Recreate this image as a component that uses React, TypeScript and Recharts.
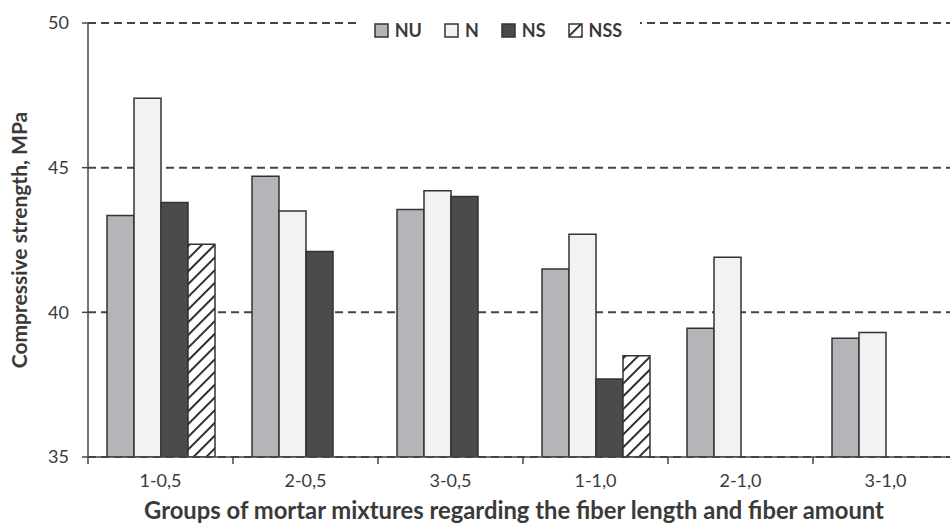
import React from 'react';
import {
  BarChart,
  Bar,
  XAxis,
  YAxis,
  CartesianGrid,
  Legend
} from 'recharts';

const groups = ['1-0,5', '2-0,5', '3-0,5', '1-1,0', '2-1,0', '3-1,0'];
const nuValues = [43.35, 44.7, 43.55, 41.5, 39.45, 39.1];
const nValues = [47.4, 43.5, 44.2, 42.7, 41.9, 39.3];
const nsValues = [43.8, 42.1, 44.0, 37.7, null, null];
const nssValues = [42.35, null, null, 38.5, null, null];
const yTicks = [35, 40, 45, 50];

const series = [
  { key: 'NU', fill: '#b4b5b9' },
  { key: 'N', fill: '#f2f2f2' },
  { key: 'NS', fill: '#4b4b4d' },
  { key: 'NSS', fill: 'url(#hatch)' }
];

const chartData = groups.map((g, i) => ({
  group: g,
  NU: nuValues[i],
  N: nValues[i],
  NS: nsValues[i],
  NSS: nssValues[i]
}));

const FONT = 'Lato, "Open Sans", sans-serif';
const INK = '#3a3a3a';
const TICK_SIZE = 7;
const TICK_MARGIN = 9;

// category label plus a tick mark on the left edge of each band
const GroupTick = (props: any) => {
  const { x, y, payload } = props;
  const axisY = y - TICK_SIZE - TICK_MARGIN;
  const edge = x - (payload.offset || 0);
  return (
    <g>
      <line x1={edge} y1={axisY} x2={edge} y2={axisY + TICK_SIZE} stroke="#444" strokeWidth={1.5} />
      <text x={x} y={y} dy={14} textAnchor="middle" fill={INK} fontSize={18} fontFamily={FONT}>
        {payload.value}
      </text>
    </g>
  );
};

const LegendBox = () => (
  <div style={{ display: 'flex', alignItems: 'center', fontFamily: FONT, fontSize: 18, fontWeight: 700, color: INK, lineHeight: '20px' }}>
    {series.map((s, i) => (
      <div key={s.key} style={{ display: 'flex', alignItems: 'center', marginRight: i < series.length - 1 ? 22 : 0 }}>
        <svg width={15} height={15} style={{ marginRight: 6 }}>
          <rect x={1} y={1} width={13} height={13} fill={s.fill} stroke="#333" strokeWidth={1.5} />
        </svg>
        <span>{s.key}</span>
      </div>
    ))}
  </div>
);

export default function App() {
  return (
    <div style={{ position: 'absolute', left: 0, top: 0, width: 950, height: 524, overflow: 'hidden', background: '#fff' }}>
      <BarChart
        width={960}
        height={524}
        data={chartData}
        margin={{ top: 23, right: 2, left: 0, bottom: 0 }}
        barCategoryGap={19}
        barGap={0}
      >
        <defs>
          <pattern id="hatch" width="9" height="9" patternUnits="userSpaceOnUse" patternTransform="rotate(45)">
            <rect width="9" height="9" fill="#ffffff" />
            <line x1="0" y1="0" x2="0" y2="9" stroke="#1a1a1a" strokeWidth="3.6" />
          </pattern>
        </defs>
        <CartesianGrid vertical={false} stroke="#444" strokeWidth={2} strokeDasharray="8 5" />
        <XAxis
          dataKey="group"
          height={67}
          tickLine={false}
          tickSize={TICK_SIZE}
          tickMargin={TICK_MARGIN}
          axisLine={{ stroke: '#444', strokeWidth: 1.5 }}
          tick={<GroupTick />}
          interval={0}
          label={{
            value: 'Groups of mortar mixtures regarding the fiber length and fiber amount',
            position: 'insideBottom',
            offset: 5,
            dx: -9,
            style: { fontFamily: FONT, fontSize: 23.8, fontWeight: 700, fill: INK }
          }}
        />
        <YAxis
          domain={[35, 50]}
          ticks={yTicks}
          width={88}
          tickSize={6}
          tickMargin={13}
          interval={0}
          allowDataOverflow
          axisLine={{ stroke: '#444', strokeWidth: 1.5 }}
          tickLine={{ stroke: '#444', strokeWidth: 1.5 }}
          tick={{ fill: INK, fontSize: 18, fontFamily: FONT }}
          label={{
            value: 'Compressive strength, MPa',
            angle: -90,
            position: 'insideLeft',
            offset: 20,
            style: { textAnchor: 'middle', fontFamily: FONT, fontSize: 21, fontWeight: 700, fill: INK }
          }}
        />
        <Legend
          layout="horizontal"
          verticalAlign="middle"
          align="center"
          content={<LegendBox />}
          wrapperStyle={{ top: 20, left: 356, width: 284, height: 20, background: '#fff', display: 'flex', justifyContent: 'center' }}
        />
        {series.map(s => (
          <Bar
            key={s.key}
            dataKey={s.key}
            fill={s.fill}
            stroke="#333"
            strokeWidth={1.5}
            isAnimationActive={false}
          />
        ))}
      </BarChart>
    </div>
  );
}
